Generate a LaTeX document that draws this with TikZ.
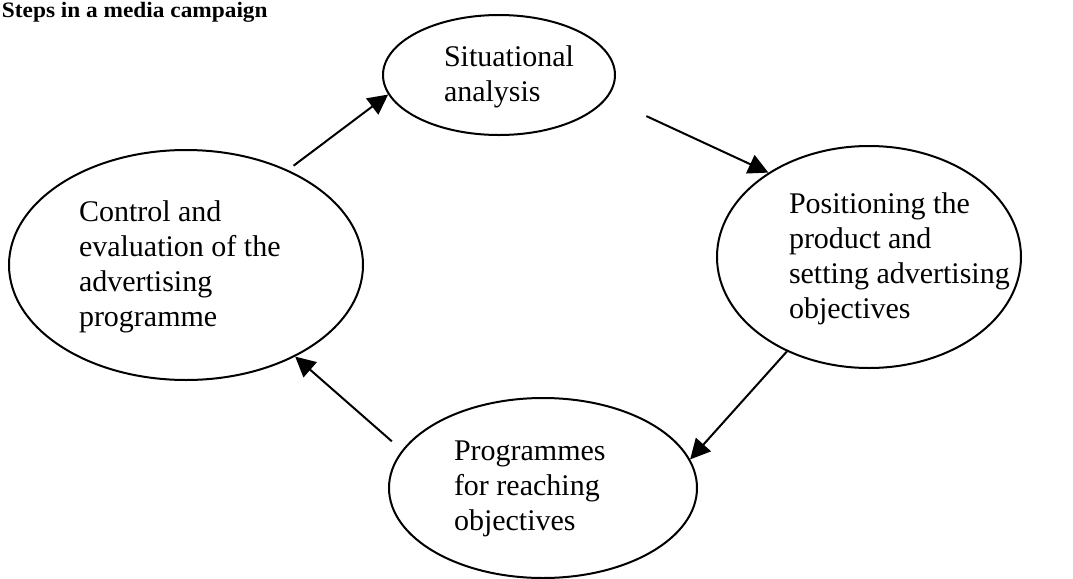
\documentclass[tikz,border=0pt]{standalone}
\usepackage{fontspec}
\setmainfont{Liberation Serif}
\usetikzlibrary{shapes.geometric,arrows.meta,calc}

\begin{document}
\begin{tikzpicture}[x=0.5pt,y=-0.5pt,line width=1pt,
                    main node/.style={ellipse,draw,inner sep=0pt},
                    text node/.style={anchor=north west,inner sep=0pt,align=left,font=\fontsize{15}{17.5}\selectfont}]
  \useasboundingbox (0,0) rectangle (1073,579);

  \node[anchor=base west,inner sep=0pt,font=\fontsize{11}{13}\selectfont\bfseries] (title) at (1,17) {\scalebox{1.06}[1]{Steps in a media campaign}};

  \node[main node,minimum width=116pt,minimum height=60pt] (1) at (499,75) {};
  \node[main node,minimum width=152pt,minimum height=111pt] (2) at (869,257) {};
  \node[main node,minimum width=154pt,minimum height=90pt] (3) at (543,488) {};
  \node[main node,minimum width=177pt,minimum height=115pt] (4) at (186,265) {};

  \node[text node] (t1) at (443,45) {Situational\\analysis};
  \node[text node] (t2) at (788,192) {Positioning the\\product and\\setting advertising\\objectives};
  \node[text node] (t3) at (453,440) {Programmes\\for reaching\\objectives};
  \node[text node] (t4) at (78,200) {Control and\\evaluation of the\\advertising\\programme};

  \path[-{Triangle[length=10pt,width=10pt]}]
    (4.43.9) edge[shorten <=3.5pt] (1.190.7)
    (1.-12) edge[shorten <=21.5pt] (2.140)
    (2.229) edge (3.11)
    (3.165.3) edge[shorten <=6.75pt] (4.-40.4);
\end{tikzpicture}
\end{document}
